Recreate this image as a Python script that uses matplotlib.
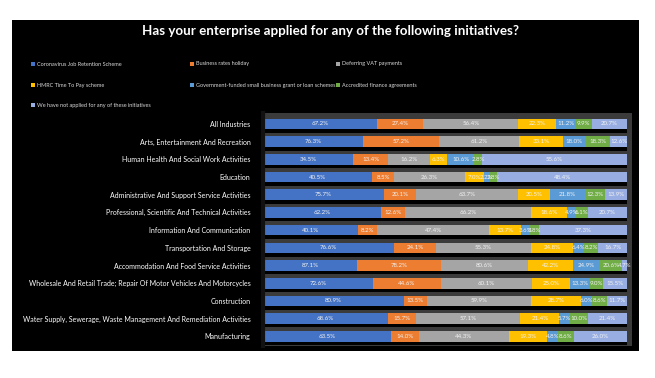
import numpy as np
import matplotlib.pyplot as plt
from matplotlib.patches import Rectangle

# Industries, top to bottom
industries = [
    'All Industries',
    'Arts, Entertainment And Recreation',
    'Human Health And Social Work Activities',
    'Education',
    'Administrative And Support Service Activities',
    'Professional, Scientific And Technical Activities',
    'Information And Communication',
    'Transportation And Storage',
    'Accommodation And Food Service Activities',
    'Wholesale And Retail Trade; Repair Of Motor Vehicles And Motorcycles',
    'Construction',
    'Water Supply, Sewerage, Waste Management And Remediation Activities',
    'Manufacturing',
]

schemes = [
    'Coronavirus Job Retention Scheme',
    'Business rates holiday',
    'Deferring VAT payments',
    'HMRC Time To Pay scheme',
    'Government-funded small business grant or loan schemes',
    'Accredited finance agreements',
    'We have not applied for any of these initiatives',
]

job_retention = [67.2, 76.3, 34.5, 40.5, 75.7, 62.2, 40.1, 76.6, 87.1, 72.6, 80.9, 68.6, 63.5]
rates_holiday = [27.4, 57.2, 13.4, 8.5, 20.1, 12.6, 8.2, 24.1, 78.2, 44.6, 13.5, 15.7, 14.0]
deferring_vat = [56.4, 61.2, 16.2, 26.3, 63.7, 66.2, 47.4, 55.3, 80.6, 60.1, 59.9, 57.1, 44.3]
time_to_pay = [22.3, 33.1, 6.3, 7.0, 20.5, 18.6, 13.7, 24.8, 42.2, 25.0, 28.7, 21.4, 19.3]
grant_loan = [11.2, 18.0, 10.6, 2.2, 21.8, 4.9, 3.6, 6.4, 24.9, 13.3, 6.0, 5.7, 4.8]
finance_agr = [9.9, 18.3, 2.8, 2.8, 12.3, 6.1, 3.8, 8.2, 20.6, 9.0, 8.6, 10.0, 8.6]
not_applied = [20.7, 12.6, 55.6, 48.4, 13.9, 20.7, 37.3, 16.7, 4.7, 15.5, 11.7, 21.4, 26.0]

colors = ['#4472C4', '#ED7D31', '#A5A5A5', '#FFC000', '#5B9BD5', '#70AD47', '#98AEE2']

series = np.array([job_retention, rates_holiday, deferring_vat, time_to_pay,
                   grant_loan, finance_agr, not_applied])
shares = series / series.sum(axis=0)

font = 'Lato'
fig = plt.figure(figsize=(6.55, 3.78), dpi=100)
fig.patch.set_facecolor('white')

# black chart panel
fig.patches.append(Rectangle((12 / 655, 1 - 351 / 378), 627 / 655, 331 / 378,
                             transform=fig.transFigure, facecolor='black',
                             edgecolor='none', zorder=-5))

fig.text(0.505, 1 - 31 / 378, 'Has your enterprise applied for any of the following initiatives?',
         color='white', fontsize=9.6, fontweight='bold', family=font,
         ha='center', va='center')

# legend
leg_x = [31, 190, 336]
leg_y = [64, 85, 105]
for i, (name, c) in enumerate(zip(schemes, colors)):
    x = leg_x[i % 3]
    yy = leg_y[i // 3]
    fig.patches.append(Rectangle((x / 655, 1 - (yy + 2) / 378), 4 / 655, 4 / 378,
                                 transform=fig.transFigure, facecolor=c,
                                 edgecolor='none'))
    fig.text((x + 6) / 655, 1 - yy / 378, name, color='#d9d9d9', fontsize=4.0,
             family=font, ha='left', va='center')

ax = fig.add_axes([263 / 655, 1 - 346 / 378, 369 / 655, 233 / 378])
ax.set_facecolor('#3b3b3b')
y = np.arange(len(industries))

# shadow under each bar
ax.barh(y + 0.2, np.ones(len(industries)), height=0.6, color='black', zorder=1)

left = np.zeros(len(industries))
for k in range(len(schemes)):
    ax.barh(y, shares[k], left=left, height=0.6, color=colors[k], zorder=2)
    for i in range(len(industries)):
        ax.text(left[i] + shares[k][i] / 2, y[i], f'{series[k][i]:.1f}%',
                ha='center', va='center', color='#f2f2f2', fontsize=4.4,
                family=font, zorder=3)
    left = left + shares[k]

ax.set_xlim(0, 1.014)
ax.set_ylim(12.55, -0.62)
ax.set_yticks(y)
ax.set_yticklabels(industries, color='white', fontsize=5.0, family=font)
ax.tick_params(axis='y', length=0, pad=9)
ax.set_xticks([])
for s in ['top', 'right', 'bottom']:
    ax.spines[s].set_visible(False)
ax.spines['left'].set_color('#111111')
ax.spines['left'].set_linewidth(3)

plt.savefig('out.png', dpi=100, facecolor='white')
